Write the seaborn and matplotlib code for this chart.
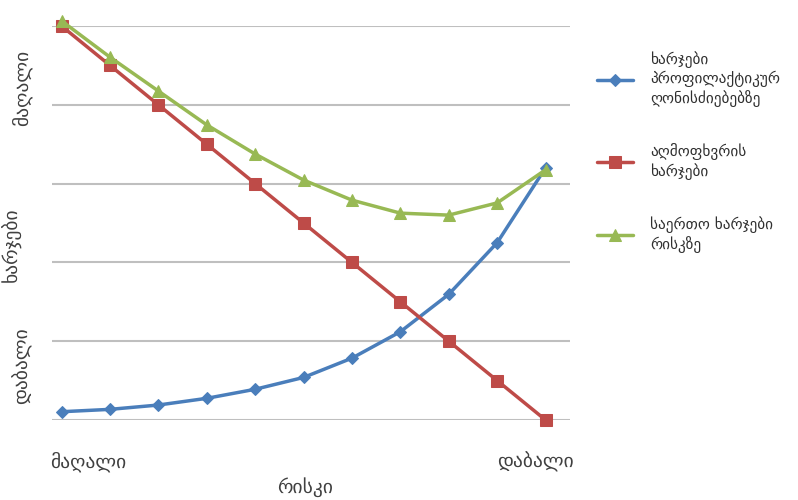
import pandas as pd
import seaborn as sns
import matplotlib.pyplot as plt

sns.set_style("white")
plt.rcParams['font.family'] = ['DejaVu Sans']

# მონაცემები (რისკის 11 დონე, მაღალიდან დაბალამდე)
rizikis_done = list(range(11))
prevencia = [2.1, 2.7, 3.8, 5.5, 7.8, 10.8, 15.7, 22.4, 31.9, 45.0, 64.0]
aghmofkhvra = [100, 90, 80, 70, 60, 50, 40, 30, 20, 10, 0]
saerto = [101.3, 92.1, 83.5, 74.9, 67.5, 60.9, 55.8, 52.5, 52.0, 55.1, 63.5]

seriebi = ["ხარჯები\nპროფილაქტიკურ\nღონისძიებებზე",
           "აღმოფხვრის\nხარჯები",
           "საერთო ხარჯები\nრისკზე"]
ferebi = ["#4a7ebb", "#be4b48", "#98b954"]
markerebi = ["D", "s", "^"]
zomebi = [6, 8, 9]

df = pd.DataFrame({
    "x": rizikis_done * 3,
    "y": prevencia + aghmofkhvra + saerto,
    "seria": [seriebi[0]] * 11 + [seriebi[1]] * 11 + [seriebi[2]] * 11,
})

fig = plt.figure(figsize=(7.98, 5.0), dpi=100)
ax = fig.add_axes([0.065, 0.16, 0.649, 0.788])

for s, c, m, z in zip(seriebi, ferebi, markerebi, zomebi):
    sns.lineplot(data=df[df["seria"] == s], x="x", y="y", ax=ax, color=c,
                 marker=m, markersize=z, markeredgecolor=c, linewidth=2.5,
                 label=s, clip_on=False, zorder=3)

ax.set_xlim(-0.2, 10.5)
ax.set_ylim(0, 100)
ax.set_yticks([0, 20, 40, 60, 80, 100])
ax.set_xticks([])
ax.yaxis.grid(True, color="#bfbfbf", linewidth=1.5)
ax.set_yticklabels([])
ax.tick_params(left=False, bottom=False)
for sp in ax.spines.values():
    sp.set_visible(False)
ax.set_xlabel("")
ax.set_ylabel("")

# ღერძების წარწერები
tf = dict(fontsize=14, color="#404040")
fig.text(50 / 798, 1 - 462 / 500, "მაღალი", ha="left", va="center", **tf)
fig.text(574 / 798, 1 - 462 / 500, "დაბალი", ha="right", va="center", **tf)
fig.text(305 / 798, 1 - 487 / 500, "რისკი", ha="center", va="center", **tf)
fig.text(22 / 798, 1 - 88 / 500, "მაღალი", rotation=90, ha="center", va="center", **tf)
fig.text(12 / 798, 1 - 245 / 500, "ხარჯები", rotation=90, ha="center", va="center", **tf)
fig.text(22 / 798, 1 - 366 / 500, "დაბალი", rotation=90, ha="center", va="center", **tf)

ax.legend(loc="upper left", bbox_to_anchor=(1.052, 0.935), frameon=False,
          borderpad=0, borderaxespad=0,
          fontsize=11, labelspacing=2.4, handlelength=2.4, handletextpad=1.1,
          labelcolor="#303030")

fig.savefig("out.png", dpi=100)
